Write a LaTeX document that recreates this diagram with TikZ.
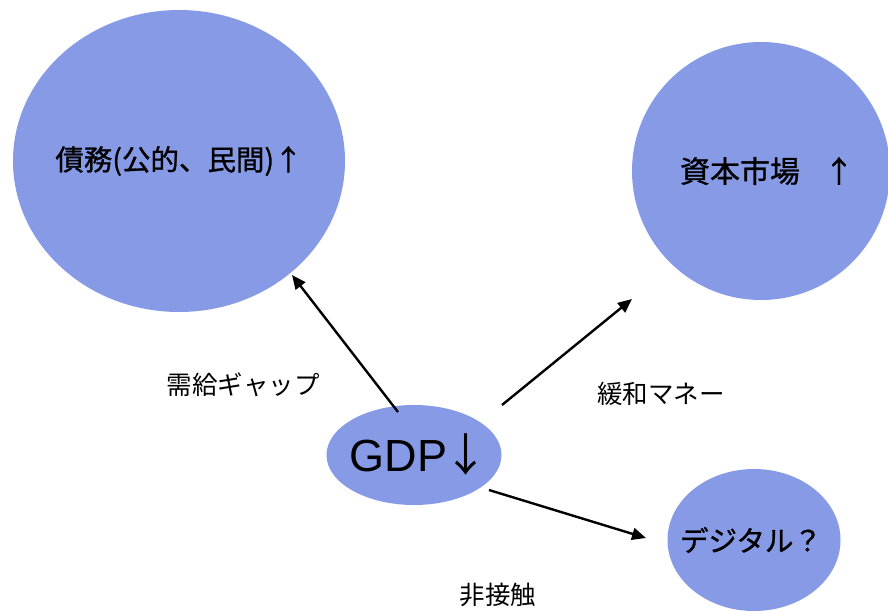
\documentclass[tikz,border=0pt]{standalone}
\usepackage{fontspec}
\setmainfont{Liberation Sans}
\newfontfamily\jp{Noto Sans CJK JP}
\newfontfamily\jpb[FakeBold=1.0]{Noto Sans CJK JP}
\usetikzlibrary{arrows.meta,shapes.geometric}
\definecolor{bub}{RGB}{134,154,230}
\tikzset{
  bubble/.style={ellipse,fill=bub,draw=none,inner sep=0pt},
  arr/.style={line width=2.4pt,-{Triangle[length=14pt,width=12pt]}},
  lbl/.style={font=\jp\fontsize{25.5}{28}\selectfont,inner sep=0pt},
  btxt/.style={font=\jpb\fontsize{28.5}{32}\selectfont,inner sep=0pt}
}
\begin{document}
\begin{tikzpicture}[x=1pt,y=-1pt]
\useasboundingbox (0,0) rectangle (888,610);
\begin{scope}
\clip (0,0) rectangle (888,610);
\node[bubble,minimum width=332pt,minimum height=302pt,
  label={[btxt]center:債務(公的、民間)↑}] (debt) at (179,161) {};
\node[bubble,minimum width=258pt,minimum height=258pt,
  label={[btxt,font=\jpb\fontsize{30}{33}\selectfont,xshift=6pt]center:資本市場\hspace{24pt}↑}] (capital) at (761,171) {};
\node[bubble,minimum width=175pt,minimum height=100pt,
  label={[inner sep=0pt,xshift=5pt]center:\fontsize{45}{48}\selectfont GDP\kern-4pt{\jp↓}}] (gdp) at (414,455) {};
\node[bubble,minimum width=173pt,minimum height=142pt,
  label={[btxt,xshift=-3pt]center:デジタル？}] (digital) at (754,540) {};
\end{scope}
\coordinate (s1) at (398,412);
\coordinate (e1) at (292,275);
\coordinate (s2) at (502,405);
\coordinate (e2) at (632,299);
\coordinate (s3) at (489,490);
\coordinate (e3) at (646,538);
\draw[arr] (s1) -- (e1);
\draw[arr] (s2) -- (e2);
\draw[arr] (s3) -- (e3);
\node[lbl] (l1) at (243,385) {需給ギャップ};
\node[lbl] (l2) at (661,394) {緩和マネー};
\node[lbl] (l3) at (498,595) {非接触};
\end{tikzpicture}
\end{document}
